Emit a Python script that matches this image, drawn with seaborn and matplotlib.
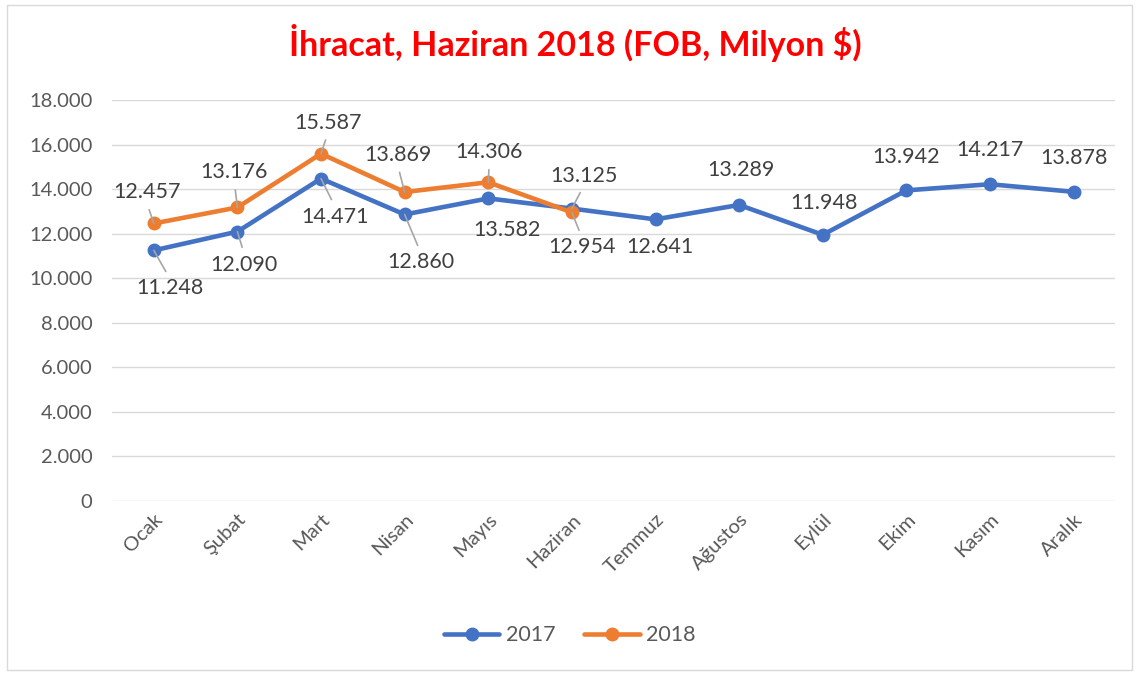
import matplotlib.pyplot as plt
import seaborn as sns
import pandas as pd
from matplotlib.patches import Rectangle

# Veriler
aylar = ["Ocak", "Şubat", "Mart", "Nisan", "Mayıs", "Haziran", "Temmuz",
         "Ağustos", "Eylül", "Ekim", "Kasım", "Aralık"]
ihracat_2017 = [11248, 12090, 14471, 12860, 13582, 13125, 12641,
                13289, 11948, 13942, 14217, 13878]
ihracat_2018 = [12457, 13176, 15587, 13869, 14306, 12954]

# Etiket kaymalari (piksel, x sag / y yukari, cizgi var mi)
ofset_2017 = [(16, -38, True), (7, -33, True), (14, -38, True), (16, -48, True),
              (19, -32, False), (12, 33, True), (4, -28, False), (2, 35, False),
              (1, 32, False), (0, 33, False), (0, 34, False), (0, 34, False)]
ofset_2018 = [(-7, 31, True), (-3, 35, True), (7, 31, True), (-7, 37, True),
              (1, 30, True), (10, -35, True)]

mavi = "#4472C4"
turuncu = "#ED7D31"
gri = "#595959"

df = pd.concat([
    pd.DataFrame({"Ay": aylar, "Deger": ihracat_2017, "Yil": "2017"}),
    pd.DataFrame({"Ay": aylar[:len(ihracat_2018)], "Deger": ihracat_2018, "Yil": "2018"}),
])

sns.set_style("white")
plt.rcParams['font.family'] = ['Lato', 'DejaVu Sans']

fig = plt.figure(figsize=(11.39, 6.75), dpi=100)
ax = fig.add_axes([0.0983, 0.2578, 0.881, 0.5941])

sns.lineplot(data=df, x="Ay", y="Deger", hue="Yil", palette=[mavi, turuncu],
             marker="o", markersize=10, markeredgewidth=0, linewidth=3.3,
             sort=False, ax=ax, legend=True)

ax.set_xlim(-0.5, 11.5)
ax.set_ylim(0, 18000)
ax.set_yticks(range(0, 18001, 2000))
ax.set_yticklabels(["0" if v == 0 else f"{v:,}".replace(",", ".") for v in range(0, 18001, 2000)])
ax.grid(axis="y", color="#D9D9D9", linewidth=1)
ax.set_axisbelow(True)
for s in ax.spines.values():
    s.set_visible(False)
ax.tick_params(axis="y", length=0, labelsize=14.5, labelcolor=gri, pad=14)
ax.tick_params(axis="x", length=0, labelsize=14.5, labelcolor=gri, pad=7)
plt.setp(ax.get_xticklabels(), rotation=45, ha="right", rotation_mode="anchor")
ax.set_xlabel("")
ax.set_ylabel("")


def etiketle(degerler, ofsetler):
    for i, (v, (dx, dy, cizgi)) in enumerate(zip(degerler, ofsetler)):
        metin = f"{v:,}".replace(",", ".")
        kw = {}
        if cizgi:
            kw["arrowprops"] = dict(arrowstyle="-", color="#A6A6A6", lw=1.2,
                                    shrinkA=3, shrinkB=0,
                                    relpos=(0.5, 1.0) if dy < 0 else (0.5, 0.0))
        ax.annotate(metin, xy=(i, v), xytext=(dx * 0.72, dy * 0.72),
                    textcoords="offset points", ha="center", va="center",
                    fontsize=15.5, color="#404040", **kw)


etiketle(ihracat_2017, ofset_2017)
etiketle(ihracat_2018, ofset_2018)

h, l = ax.get_legend_handles_labels()
ax.get_legend().remove()
fig.legend(h, l, loc="center", bbox_to_anchor=(0.5, 0.059), ncol=2, frameon=False,
           fontsize=15.5, handlelength=2.6, columnspacing=1.3, handletextpad=0.3,
           labelcolor=gri)

fig.suptitle("İhracat, Haziran 2018 (FOB, Milyon $)", x=0.505, y=0.965,
             fontsize=24.5, fontweight="bold", color="#FF0000")

fig.patches.append(Rectangle((0.006, 0.008), 0.988, 0.985, transform=fig.transFigure,
                             fill=False, edgecolor="#D9D9D9", linewidth=1))

fig.savefig("out.png", dpi=100)
